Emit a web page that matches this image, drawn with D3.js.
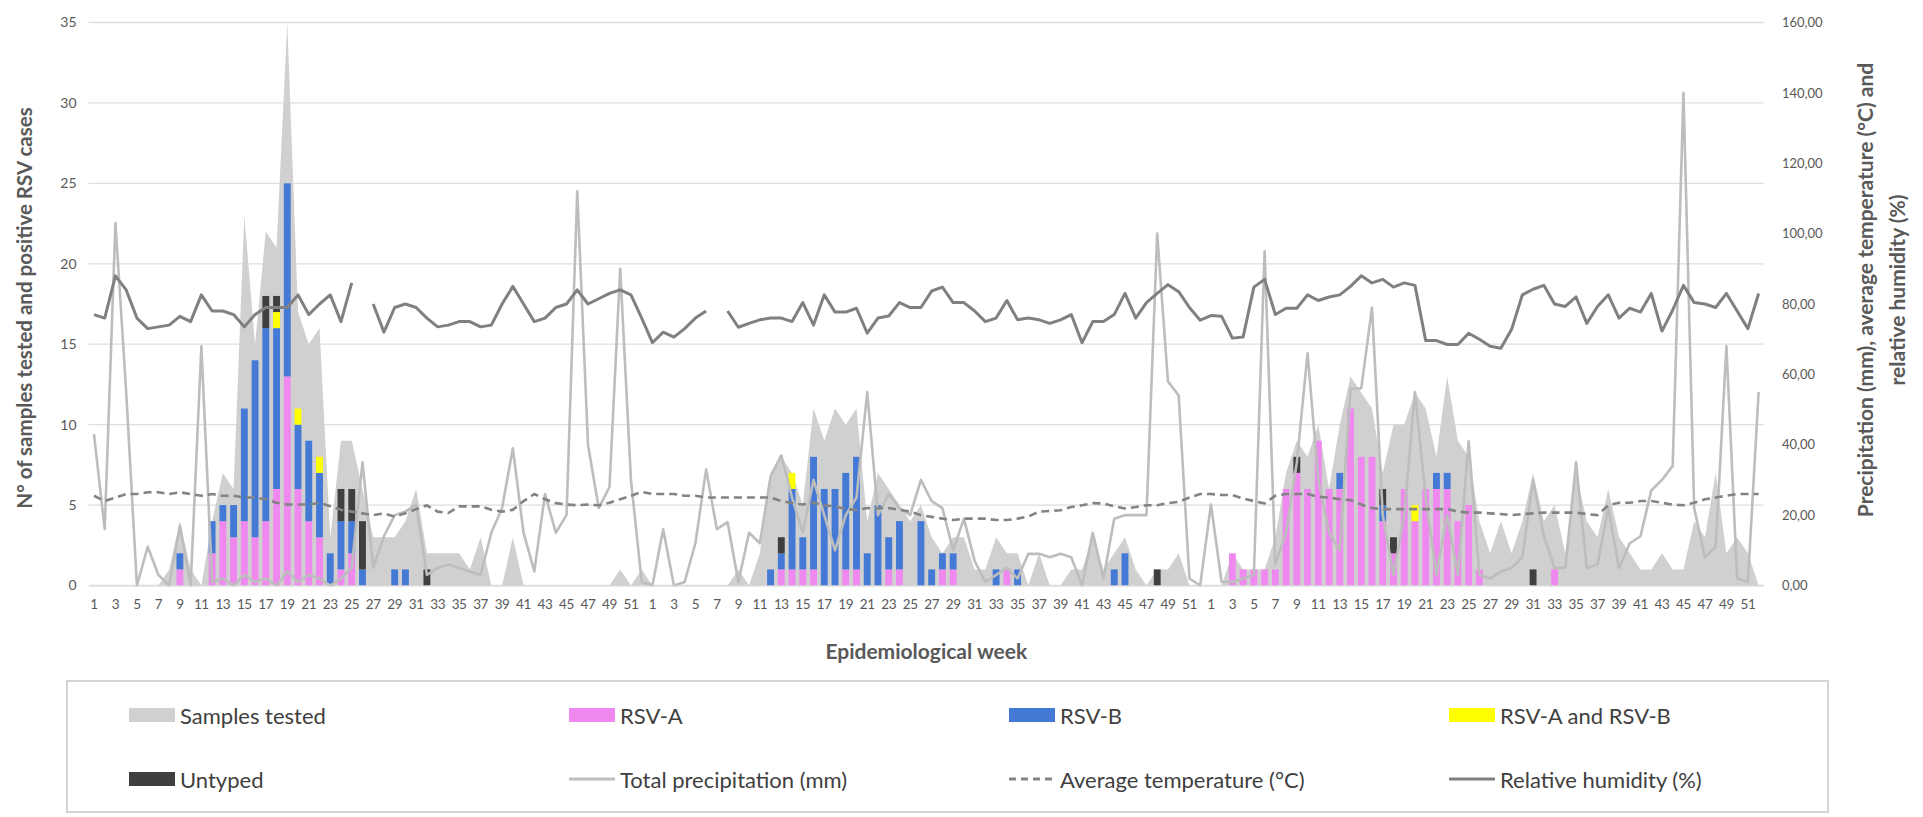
<!DOCTYPE html>
<html>
<head>
<meta charset="utf-8">
<script src="https://cdn.jsdelivr.net/npm/d3@7"></script>
<style>
  body { margin: 0; background: #fff; }
  svg text { font-family: Lato, "Open Sans", sans-serif; fill: #595959; }
</style>
</head>
<body>
<svg id="chart" width="1923" height="817"></svg>
<script>

// epidemiological weeks, three consecutive seasons
const weeks = [1,2,3,4,5,6,7,8,9,10,11,12,13,14,15,16,17,18,19,20,21,22,23,24,25,26,
               27,28,29,30,31,32,33,34,35,36,37,38,39,40,41,42,43,44,45,46,47,48,49,50,51,52]
const seasons = ['year 1', 'year 2', 'year 3']

// left axis: samples tested and positive cases
const samples = [
  0,0,0,0,0,0,0,1,4,1,0,4,7,6,23,15,22,21,35,17,15,16,3,9,9,6,
  3,3,3,4,6,2,2,2,2,1,3,0,0,3,0,0,0,0,0,0,0,0,0,1,0,1,
  0,0,0,0,0,0,0,0,1,0,2,7,8,7,5,11,9,11,10,11,4,7,6,5,4,5,
  3,2,3,3,1,1,3,2,2,0,2,0,0,1,1,3,1,2,3,1,0,1,1,2,0,0,
  0,0,2,1,1,1,3,7,9,8,10,6,10,13,12,11,7,10,10,12,11,8,13,9,8,4,
  2,4,2,4,7,4,5,2,7,4,3,6,3,2,1,1,2,1,1,4,3,7,2,3,2,0
]

const rsvA = [
  0,0,0,0,0,0,0,0,1,0,0,2,4,3,4,3,4,6,13,6,4,3,0,1,2,0,
  0,0,0,0,0,0,0,0,0,0,0,0,0,0,0,0,0,0,0,0,0,0,0,0,0,0,
  0,0,0,0,0,0,0,0,0,0,0,0,1,1,1,1,0,0,1,1,0,0,1,1,0,0,
  0,1,1,0,0,0,0,1,0,0,0,0,0,0,0,0,0,0,0,0,0,0,0,0,0,0,
  0,0,2,1,1,1,1,6,7,6,9,6,6,11,8,8,4,2,6,4,6,6,6,4,5,1,
  0,0,0,0,0,0,1,0,0,0,0,0,0,0,0,0,0,0,0,0,0,0,0,0,0,0
]

const rsvB = [
  0,0,0,0,0,0,0,0,1,0,0,2,1,2,7,11,12,10,12,4,5,4,2,3,2,1,
  0,0,1,1,0,0,0,0,0,0,0,0,0,0,0,0,0,0,0,0,0,0,0,0,0,0,
  0,0,0,0,0,0,0,0,0,0,0,1,1,5,2,7,6,6,6,7,2,5,2,3,0,4,
  1,1,1,0,0,0,1,0,1,0,0,0,0,0,0,0,0,1,2,0,0,0,0,0,0,0,
  0,0,0,0,0,0,0,0,0,0,0,0,1,0,0,0,1,0,0,0,0,1,1,0,0,0,
  0,0,0,0,0,0,0,0,0,0,0,0,0,0,0,0,0,0,0,0,0,0,0,0,0,0
]

const rsvAB = [
  0,0,0,0,0,0,0,0,0,0,0,0,0,0,0,0,0,1,0,1,0,1,0,0,0,0,
  0,0,0,0,0,0,0,0,0,0,0,0,0,0,0,0,0,0,0,0,0,0,0,0,0,0,
  0,0,0,0,0,0,0,0,0,0,0,0,0,1,0,0,0,0,0,0,0,0,0,0,0,0,
  0,0,0,0,0,0,0,0,0,0,0,0,0,0,0,0,0,0,0,0,0,0,0,0,0,0,
  0,0,0,0,0,0,0,0,0,0,0,0,0,0,0,0,0,0,0,1,0,0,0,0,0,0,
  0,0,0,0,0,0,0,0,0,0,0,0,0,0,0,0,0,0,0,0,0,0,0,0,0,0
]

const untyped = [
  0,0,0,0,0,0,0,0,0,0,0,0,0,0,0,0,2,1,0,0,0,0,0,2,2,3,
  0,0,0,0,0,1,0,0,0,0,0,0,0,0,0,0,0,0,0,0,0,0,0,0,0,0,
  0,0,0,0,0,0,0,0,0,0,0,0,1,0,0,0,0,0,0,0,0,0,0,0,0,0,
  0,0,0,0,0,0,0,0,0,0,0,0,0,0,0,0,0,0,0,0,0,1,0,0,0,0,
  0,0,0,0,0,0,0,0,1,0,0,0,0,0,0,0,1,1,0,0,0,0,0,0,0,0,
  0,0,0,0,1,0,0,0,0,0,0,0,0,0,0,0,0,0,0,0,0,0,0,0,0,0
]

// right axis: weather
const precipitation = [
  43,16,103,55,0,11,3,0,17,0,68,1,2,0,3,1,2,0,4,1,3,2,0,2,5,35,
  5,14,20,21,23,3,5,6,5,4,3,15,22,39,15,4,26,15,20,112,40,22,28,90,30,1,
  0,16,0,1,12,33,16,18,1,15,12,31,37,25,15,30,20,10,20,25,55,20,26,22,20,30,
  24,22,10,19,7,1,3,5,2,9,9,8,9,8,0,15,2,19,20,20,20,100,58,54,2,0,
  23,1,1,2,3,95,6,15,35,66,30,15,10,56,56,79,20,3,20,55,25,3,20,3,41,3,
  2,4,5,8,30,14,5,5,35,5,6,22,5,12,14,27,30,34,140,22,8,11,68,2,1,55
]

const temperature = [
  25.5,24,25,26,26,26.5,26.5,26,26.5,26,25.5,26,25.5,25.5,25,25,24.5,23.5,23,23,23,23.5,22.5,21.5,21,20.5,
  20,20.5,19.6,20.5,21.7,22.8,21,20.6,22.5,22.5,22.5,21.5,21,21.5,24,26,24.5,23.4,23,22.8,23,22.8,23.5,24.5,25.5,26.6,
  26,26,26,25.5,25.5,25,25,25,25,25,25,25,24,23.4,23,23.5,22.8,22.5,21.7,21.5,22,22,22,21.5,21,20,
  19.5,19,18.6,19,19,19,18.6,18.6,19,19.6,21,21.2,21.4,22.3,22.8,23.4,23.3,22.5,21.9,22.3,22.8,22.8,23.4,23.8,25,26,
  26,25.7,25.7,24.7,24,23.3,25.5,26,26,26,25.2,25,24.5,24.3,23,22,21.7,21.7,21.7,21.7,21.7,21.7,21.7,21,20.7,20.7,
  20.5,20.3,20,20.3,20.5,20.7,20.7,20.7,20.7,20.3,20,22.8,23.5,23.5,24,24,23.5,23,22.8,23.5,24.5,25,25.5,26,26,26
]

const humidity = [
  77,76,88,84,76,73,73.5,74,76.5,75,82.6,78,78,77,73.5,77,79,79,79,82.6,77,80,82.6,75,86,null,
  80,72,79,80,79,76,73.5,74,75,75,73.5,74,80,85,80,75,76,79,80,84,80,81.5,83,84,82.6,76,
  69,72,70.6,73,76,78,null,78,73.4,74.5,75.5,76,76,75,80.4,74,82.6,77.7,77.7,78.8,71.7,76,76.6,80.4,79,79,
  83.7,84.8,80.4,80.4,78,75,76,81,75.5,76,75.5,74.5,75.5,77,69,75,75,77,83,76,80.4,83,85.5,83.5,79,75.4,
  76.7,76.5,70.3,70.6,84.8,87,77,78.8,78.8,82.6,81,82,82.6,85,88,86,87,84.8,86,85.3,69.6,69.6,68.5,68.5,71.7,70,
  68,67.4,72.8,82.6,84.2,85.3,80,79.3,82,74.5,79.3,82.6,76,78.8,77.7,83,72.3,78.3,85.3,80.4,80,79,83,78,73,83
]

const leftTicks = [0, 5, 10, 15, 20, 25, 30, 35]
const rightTicks = [0, 20, 40, 60, 80, 100, 120, 140, 160]

const colors = {
  samples: '#d0d0d0',
  A: '#ef88ef',
  B: '#4479d6',
  AB: '#ffff00',
  U: '#3f3f3f',
  precip: '#bdbdbd',
  temp: '#838383',
  hum: '#808080'
}

const W = 1923, H = 817
const margin = { top: 22.5, right: 159, bottom: 231.5, left: 88.6 }
const plotW = W - margin.left - margin.right
const plotH = H - margin.top - margin.bottom

const weekLabel = seasons.flatMap(() => weeks)
const n = weekLabel.length

const commaFmt = d3.formatLocale({ decimal: ',', thousands: '.', grouping: [3], currency: ['', ''] }).format('.2f')

const x = d3.scaleBand()
  .domain(d3.range(n))
  .range([margin.left, margin.left + plotW])
  .paddingInner(0.36)
  .paddingOuter(0.18)

const cx = i => x(i) + x.bandwidth() / 2

const yL = d3.scaleLinear().domain([0, 35]).range([margin.top + plotH, margin.top])
const yR = d3.scaleLinear().domain([0, 160]).range([margin.top + plotH, margin.top])

const svg = d3.select('#chart')

// gridlines
svg.append('g')
  .selectAll('line')
  .data(leftTicks)
  .join('line')
   .attr('x1', margin.left)
   .attr('x2', margin.left + plotW)
   .attr('y1', d => yL(d))
   .attr('y2', d => yL(d))
   .attr('stroke', '#dedede')
   .attr('stroke-width', 1.3)

// samples tested (area)
svg.append('path')
  .datum(samples)
  .attr('fill', colors.samples)
  .attr('d', d3.area()
    .x((d, i) => cx(i))
    .y0(yL(0))
    .y1(d => yL(d)))

// stacked positive cases
const rows = d3.range(n).map(i => ({ A: rsvA[i], B: rsvB[i], AB: rsvAB[i], U: untyped[i] }))
const layers = d3.stack().keys(['A', 'B', 'AB', 'U'])(rows)

svg.append('g')
  .selectAll('g')
  .data(layers)
  .join('g')
   .attr('fill', d => colors[d.key])
  .selectAll('rect')
  .data(d => d.map((v, i) => ({ i, y0: v[0], y1: v[1] })).filter(v => v.y1 > v.y0))
  .join('rect')
   .attr('x', d => x(d.i))
   .attr('width', x.bandwidth())
   .attr('y', d => yL(d.y1))
   .attr('height', d => yL(d.y0) - yL(d.y1))

// weather lines
function weatherLine(values, color, width, dash) {
  svg.append('path')
    .datum(values)
    .attr('fill', 'none')
    .attr('stroke', color)
    .attr('stroke-width', width)
    .attr('stroke-linejoin', 'round')
    .attr('stroke-dasharray', dash)
    .attr('d', d3.line()
      .defined(d => d != null)
      .x((d, i) => cx(i))
      .y(d => yR(d)))
}

weatherLine(precipitation, colors.precip, 2.6, null)
weatherLine(temperature, colors.temp, 2.6, '8,5')
weatherLine(humidity, colors.hum, 3, null)

// axes
const left = svg.append('g')
  .attr('transform', 'translate(' + margin.left + ',0)')
  .call(d3.axisLeft(yL).tickValues(leftTicks).tickSize(0).tickPadding(12))
left.select('.domain').remove()

const right = svg.append('g')
  .attr('transform', 'translate(' + (margin.left + plotW) + ',0)')
  .call(d3.axisRight(yR).tickValues(rightTicks).tickFormat(commaFmt).tickSize(0).tickPadding(18))
right.select('.domain').remove()

const bottom = svg.append('g')
  .attr('transform', 'translate(0,' + (margin.top + plotH) + ')')
  .call(d3.axisBottom(x)
    .tickValues(d3.range(0, n, 2))
    .tickFormat(i => weekLabel[i])
    .tickSize(0)
    .tickPadding(14))
bottom.select('.domain').attr('stroke', '#d9d9d9')

svg.selectAll('.tick text')
  .attr('fill', '#595959')
  .style('font-size', '14px')

bottom.selectAll('.tick text').style('font-size', '13.5px').style('letter-spacing', '-0.4px')
right.selectAll('.tick text').style('font-size', '13px')

// axis titles
svg.append('text')
  .attr('transform', 'translate(24,' + 308 + ') rotate(-90)')
  .attr('text-anchor', 'middle')
  .attr('dominant-baseline', 'central')
  .style('font-size', '20.5px')
  .style('font-weight', 'bold')
  .text('N° of samples tested and positive RSV cases')

const rtitle = svg.append('text')
  .attr('transform', 'translate(1864,' + 290 + ') rotate(-90)')
  .attr('text-anchor', 'middle')
  .attr('dominant-baseline', 'central')
  .style('font-size', '21px')
  .style('font-weight', 'bold')
rtitle.append('tspan').attr('x', 0).attr('y', 0).text('Precipitation (mm), average temperature (°C) and')
rtitle.append('tspan').attr('x', 0).attr('y', 32).text('relative humidity (%)')

svg.append('text')
  .attr('x', margin.left + plotW / 2)
  .attr('y', 650)
  .attr('text-anchor', 'middle')
  .attr('dominant-baseline', 'central')
  .style('font-size', '21px')
  .style('font-weight', 'bold')
  .text('Epidemiological week')

// legend
const legendItems = [
  { label: 'Samples tested', kind: 'box', color: colors.samples, col: 0, row: 0 },
  { label: 'RSV-A', kind: 'box', color: colors.A, col: 1, row: 0 },
  { label: 'RSV-B', kind: 'box', color: colors.B, col: 2, row: 0 },
  { label: 'RSV-A and RSV-B', kind: 'box', color: colors.AB, col: 3, row: 0 },
  { label: 'Untyped', kind: 'box', color: colors.U, col: 0, row: 1 },
  { label: 'Total precipitation (mm)', kind: 'line', color: colors.precip, col: 1, row: 1 },
  { label: 'Average temperature (°C)', kind: 'dash', color: colors.temp, col: 2, row: 1 },
  { label: 'Relative humidity (%)', kind: 'line', color: colors.hum, col: 3, row: 1 }
]
const legendCols = [129, 569, 1009, 1449]
const legendRows = [715, 779]

svg.append('rect')
  .attr('x', 67)
  .attr('y', 681)
  .attr('width', 1761)
  .attr('height', 131)
  .attr('fill', '#fff')
  .attr('stroke', '#d4d4d4')
  .attr('stroke-width', 2)

const item = svg.append('g')
  .selectAll('g')
  .data(legendItems)
  .join('g')
   .attr('transform', d => 'translate(' + legendCols[d.col] + ',' + legendRows[d.row] + ')')

item.filter(d => d.kind === 'box')
  .append('rect')
   .attr('x', 0)
   .attr('y', -7)
   .attr('width', 46)
   .attr('height', 14)
   .attr('fill', d => d.color)

item.filter(d => d.kind !== 'box')
  .append('line')
   .attr('x1', 0)
   .attr('x2', 46)
   .attr('stroke', d => d.color)
   .attr('stroke-width', 3)
   .attr('stroke-dasharray', d => d.kind === 'dash' ? '7,5' : null)

item.append('text')
  .attr('x', 51)
  .attr('dominant-baseline', 'central')
  .style('font-size', '22px')
  .style('fill', '#404040')
  .text(d => d.label)

</script>
</body>
</html>
